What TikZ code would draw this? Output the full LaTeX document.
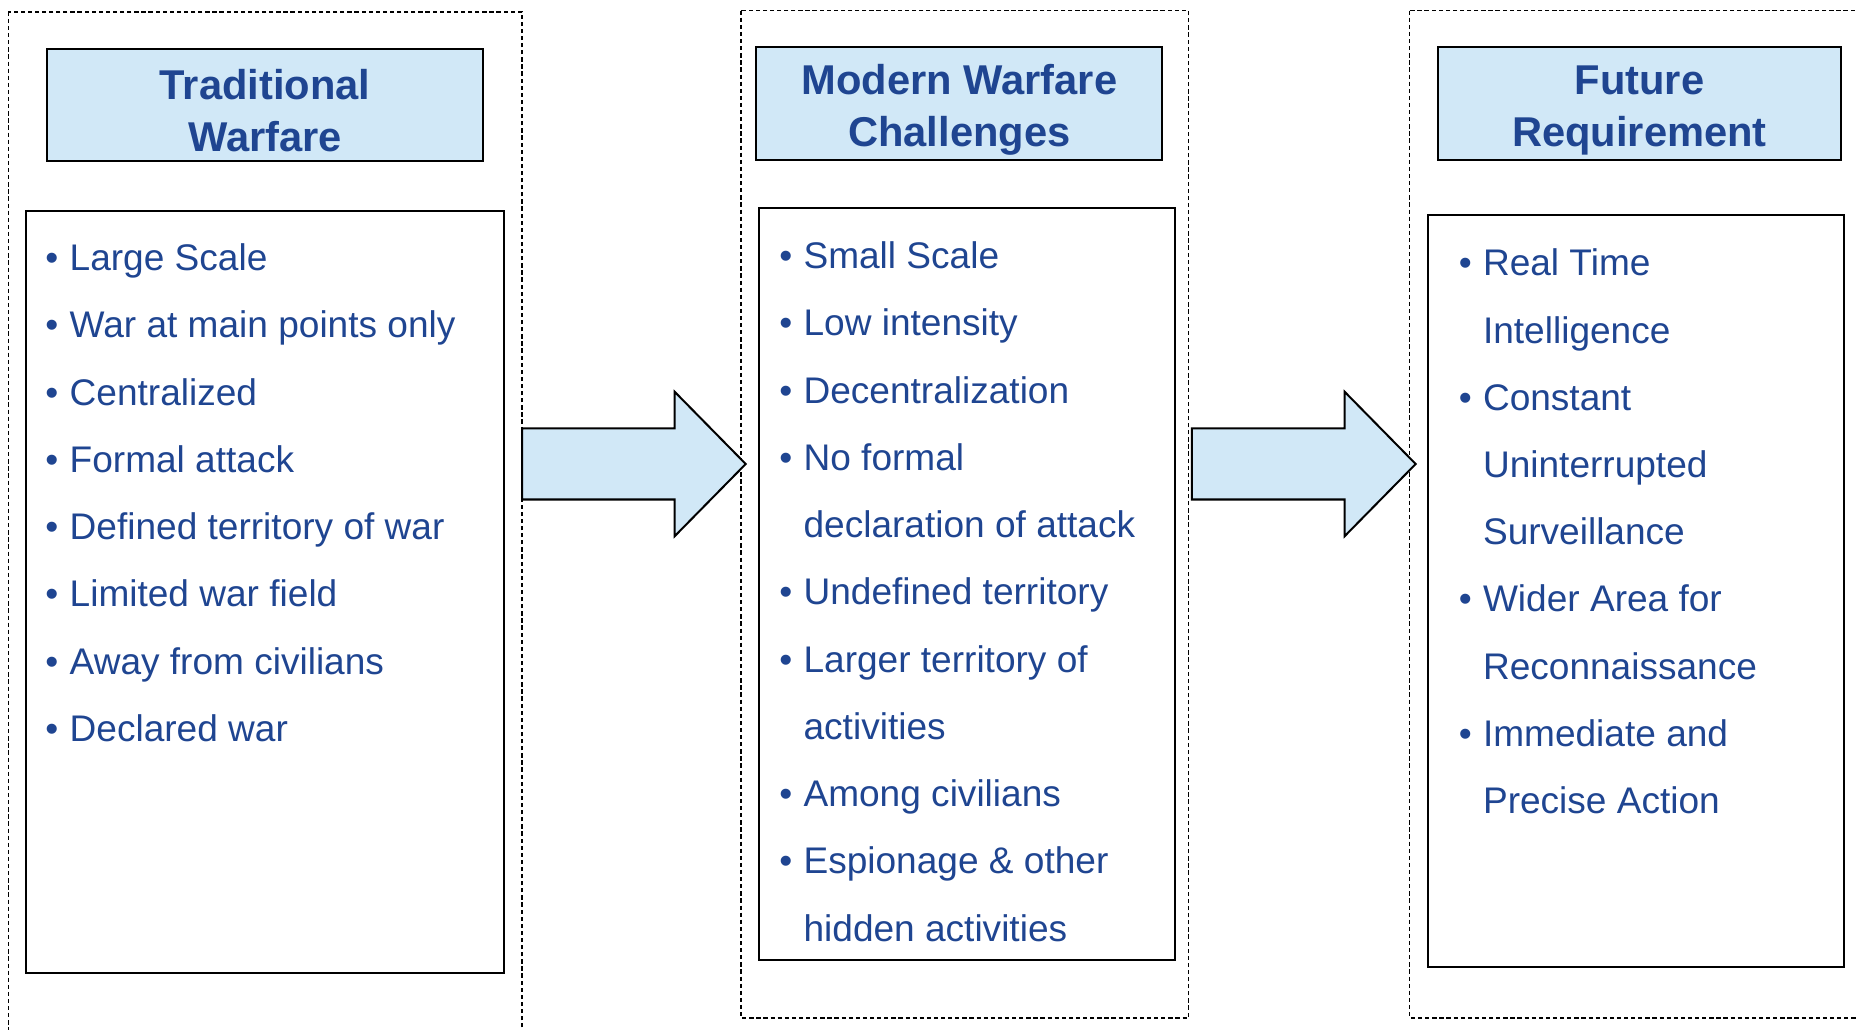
\documentclass[tikz,border=0pt]{standalone}
\usepackage{fontspec}
\setmainfont{Liberation Sans}

\definecolor{inkblue}{HTML}{1F4591}
\definecolor{paleblue}{HTML}{D1E8F7}
\newcommand{\headstrut}{\rule{0pt}{18pt}}

\begin{document}
\begin{tikzpicture}[x=0.5pt,y=-0.5pt,
                    frame/.style={draw,line width=0.6pt,dash pattern=on 1.8pt off 1.2pt},
                    title/.style={draw,line width=0.85pt,fill=paleblue,text=inkblue,align=center,
                                  inner sep=0pt,minimum height=47.5pt,
                                  font=\fontsize{17.6}{22}\selectfont\bfseries},
                    listbox/.style={draw,line width=0.85pt,inner sep=0pt},
                    item/.style={anchor=base west,inner sep=0pt,text=inkblue,
                                 font=\fontsize{15.65}{18}\selectfont},
                    blockarrow/.style={draw,line width=0.85pt,fill=paleblue,line join=miter}]

  \useasboundingbox (0,0) rectangle (1568,870);
  \clip (0,0) rectangle (1568,870);

  % dashed column frames
  \draw[frame] (7,10) rectangle (441,900);
  \draw[frame] (626,9) rectangle (1004,860);
  \draw[frame] (1191,9) rectangle (1620,860);

  % headings
  \node[title,minimum width=184pt] (trad) at (224,88.5) {\headstrut Traditional\\Warfare};
  \node[title,minimum width=171.5pt] (modern) at (810.5,87.5) {\headstrut Modern Warfare\\Challenges};
  \node[title,minimum width=170pt] (future) at (1385,87.5) {\headstrut Future\\Requirement};

  % list boxes
  \node[listbox,minimum width=202pt,minimum height=322pt] (tradlist) at (224,500) {};
  \node[listbox,minimum width=176pt,minimum height=317.5pt] (modlist) at (817,493.5) {};
  \node[listbox,minimum width=176pt,minimum height=317.5pt] (futlist) at (1382,499.5) {};

  % block arrows between the columns
  \foreach \x in {441,1007}
    \draw[blockarrow] (\x,362) -- (\x+129,362) -- (\x+129,331) -- (\x+189,392)
                      -- (\x+129,453) -- (\x+129,422) -- (\x,422) -- cycle;

  % bullet lines (1 = new bullet, 0 = continued line)
  \foreach \flag/\txt [count=\i from 0] in {1/Large Scale,1/War at main points only,
      1/Centralized,1/Formal attack,1/Defined territory of war,1/Limited war field,
      1/Away from civilians,1/Declared war}
    \node[item] (trad\i) at (38,228.7+\i*56.8)
      {\ifnum\flag=1 \makebox[10.25pt][l]{•}\else\hspace*{10.25pt}\fi\txt};

  \foreach \flag/\txt [count=\i from 0] in {1/Small Scale,1/Low intensity,
      1/Decentralization,1/No formal,0/declaration of attack,1/Undefined territory,
      1/Larger territory of,0/activities,1/Among civilians,1/Espionage \& other,
      0/hidden activities}
    \node[item] (mod\i) at (658,227+\i*56.8)
      {\ifnum\flag=1 \makebox[10.25pt][l]{•}\else\hspace*{10.25pt}\fi\txt};

  \foreach \flag/\txt [count=\i from 0] in {1/Real Time,0/Intelligence,1/Constant,
      0/Uninterrupted,0/Surveillance,1/Wider Area for,0/Reconnaissance,
      1/Immediate and,0/Precise Action}
    \node[item] (fut\i) at (1232,233+\i*56.8)
      {\ifnum\flag=1 \makebox[10.25pt][l]{•}\else\hspace*{10.25pt}\fi\txt};

\end{tikzpicture}
\end{document}
